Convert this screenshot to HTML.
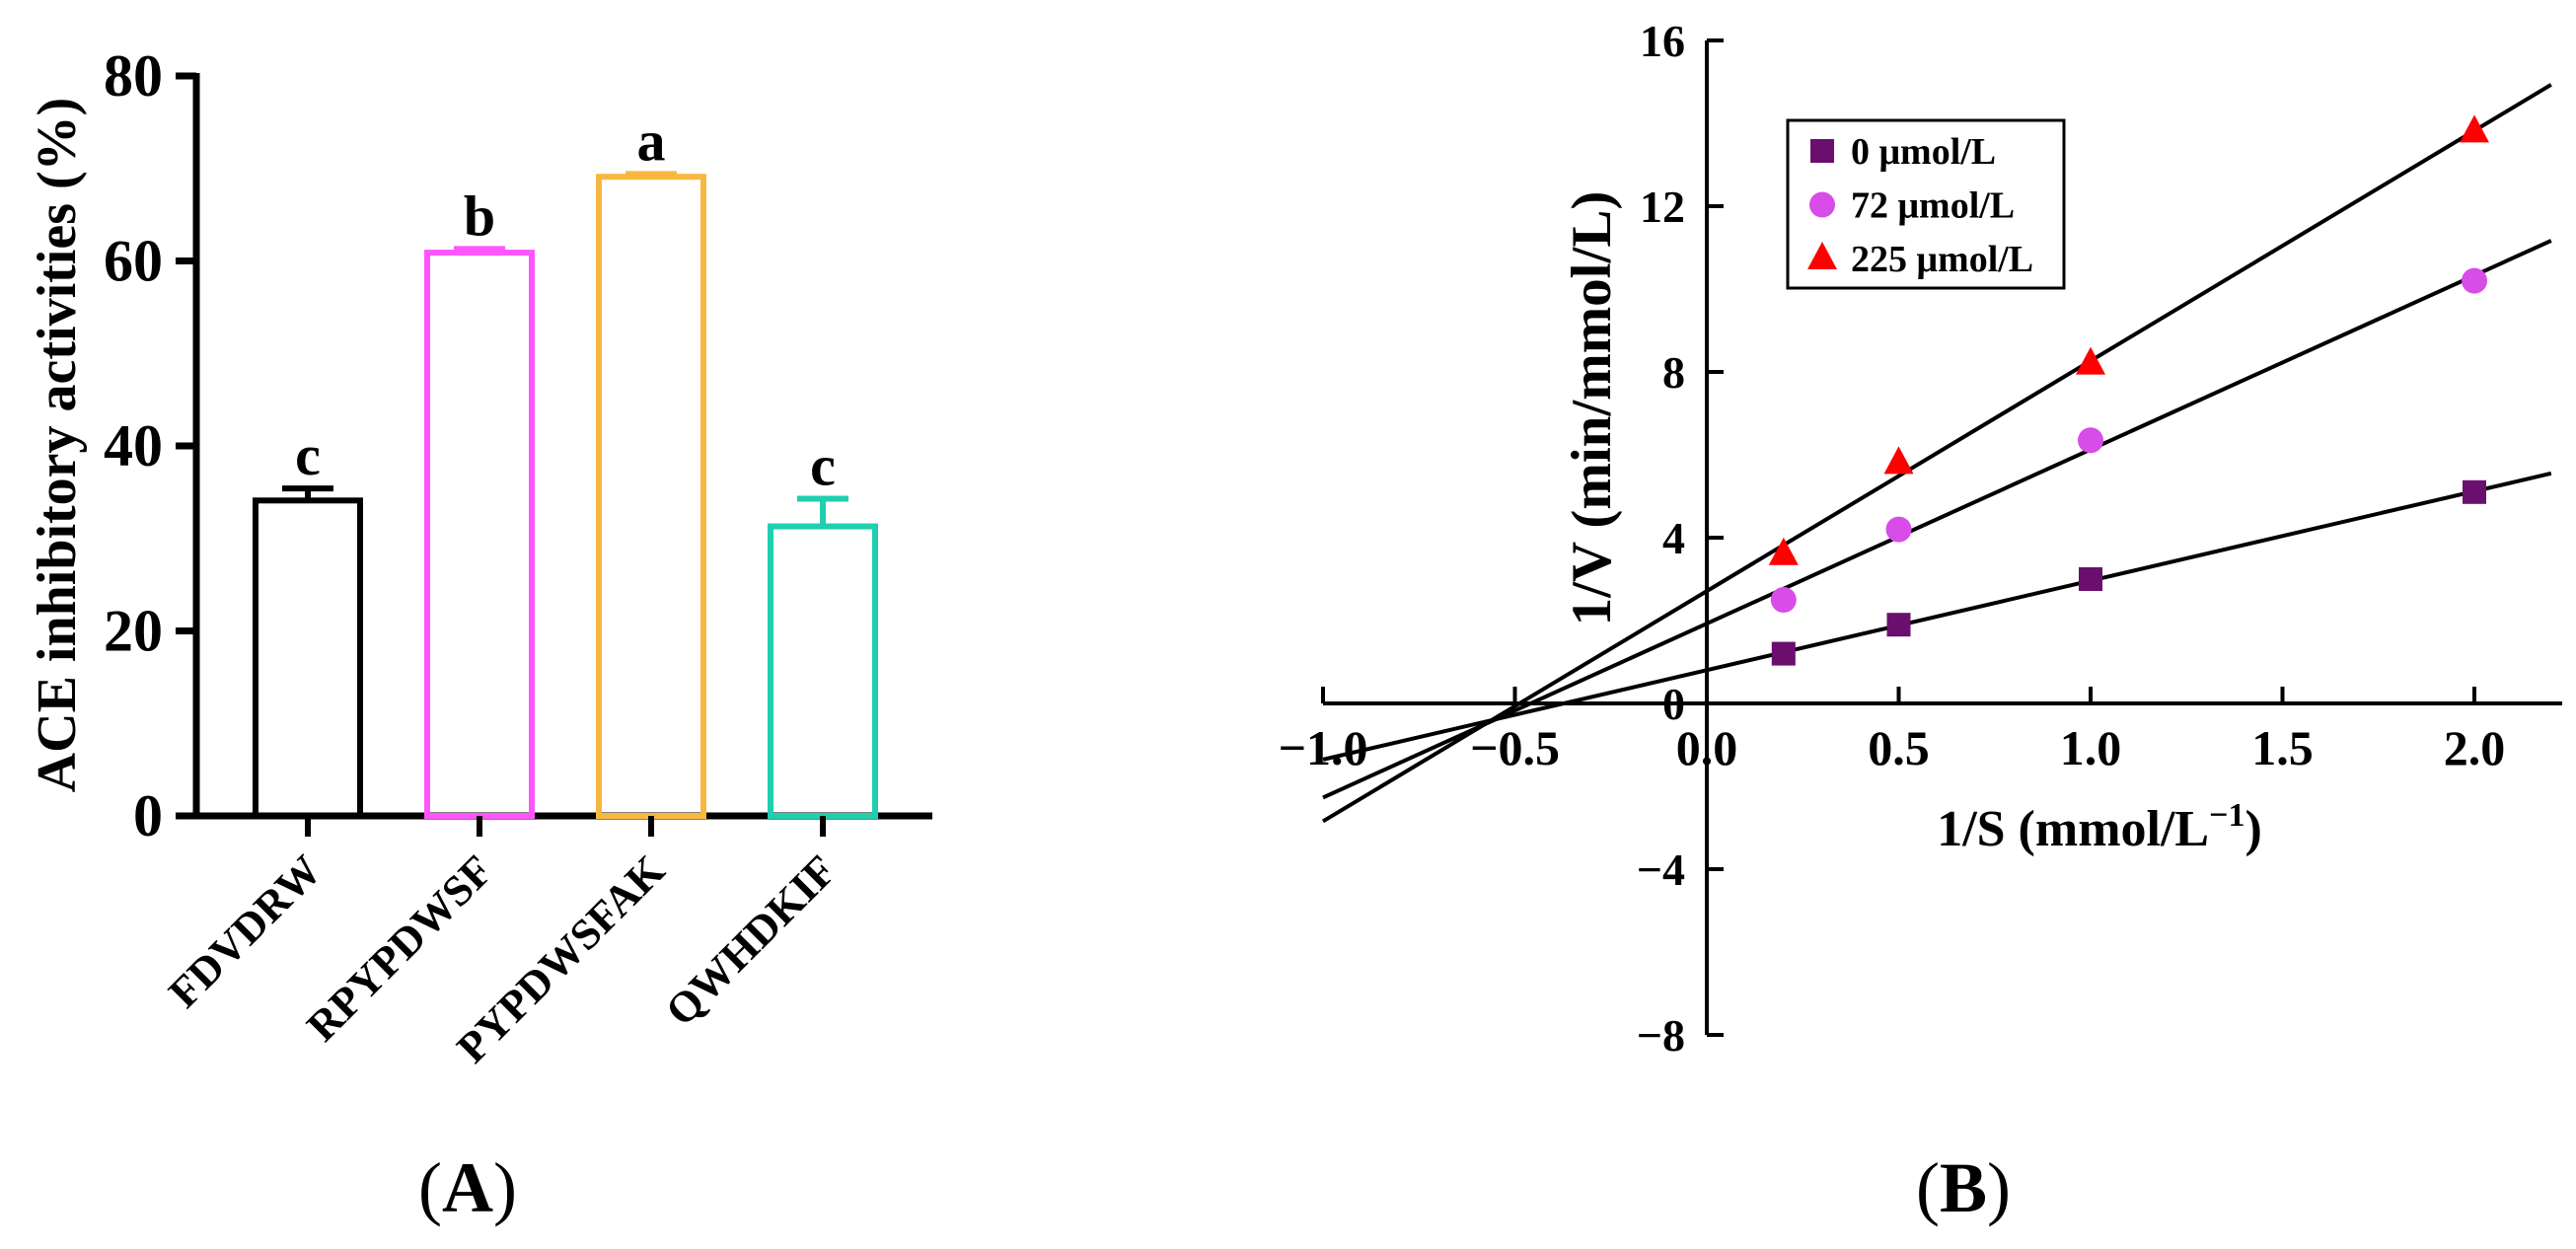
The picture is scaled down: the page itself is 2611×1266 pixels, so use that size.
<!DOCTYPE html>
<html><head><meta charset="utf-8"><style>
html,body{margin:0;padding:0;background:#fff}
svg{display:block;font-family:"Liberation Serif",serif;font-weight:bold}
</style></head><body>
<svg id="s" width="2611" height="1266" viewBox="0 0 2611 1266" xmlns="http://www.w3.org/2000/svg">
<g id="pa"></g>
<g id="pb"></g>
<text x="474" y="1228" font-size="72" text-anchor="middle" font-weight="normal">(<tspan font-weight="bold">A</tspan>)</text>
<text x="1990" y="1228" font-size="72" text-anchor="middle" font-weight="normal">(<tspan font-weight="bold">B</tspan>)</text>
</svg>
<script>
const categories=["FDVDRW","RPYPDWSF","PYPDWSFAK","QWHDKIF"];
const barValues=[34.1,60.9,69.1,31.3];
const barErrors=[1.3,0.4,0.3,3.0];
const sigLetters=["c","b","a","c"];
const barColors=["#000000","#ff55ff","#f8b840","#1fcfb0"];
const yTicksA=[0,20,40,60,80];

const xs=[0.2,0.5,1.0,2.0];
const seriesNames=["0 μmol/L","72 μmol/L","225 μmol/L"];
const s0=[1.2,1.9,3.0,5.1];
const s72=[2.5,4.2,6.35,10.2];
const s225=[3.6,5.8,8.2,13.8];
const xTicksB=[-1.0,-0.5,0.0,0.5,1.0,1.5,2.0];
const yTicksB=[-8,-4,0,4,8,12,16];

const NS="http://www.w3.org/2000/svg";
function mk(parent,tag,attrs,txt){const e=document.createElementNS(NS,tag);for(const k in attrs)e.setAttribute(k,attrs[k]);if(txt!==undefined)e.textContent=txt;parent.appendChild(e);return e;}

// Panel A
const pa=document.getElementById('pa');
const ay=v=>827-v*(750/80);
const ax=i=>312+i*174;
const ax0=199;
let e;
e=mk(pa,'line',{x1:ax0,y1:ay(80)-3,x2:ax0,y2:ay(0)+3,stroke:'#000','stroke-width':7});

e=mk(pa,'line',{x1:178,y1:ay(0),x2:945,y2:ay(0),stroke:'#000','stroke-width':7});

yTicksA.forEach(v=>{
  e=mk(pa,'line',{x1:178,y1:ay(v),x2:ax0,y2:ay(v),stroke:'#000','stroke-width':7});
  
  e=mk(pa,'text',{x:165,y:ay(v)+20,'font-size':60,'text-anchor':'end'},String(v));
  
});
e=mk(pa,'text',{x:0,y:0,'font-size':56,'text-anchor':'middle',transform:'translate(76,451) rotate(-90)'},'ACE inhibitory activities (%)');

categories.forEach((c,i)=>{
  const cx=ax(i),hw=53,top=ay(barValues[i]);
  e=mk(pa,'rect',{x:cx-hw,y:top,width:2*hw,height:ay(0)-top,fill:'none',stroke:barColors[i],'stroke-width':6});
  
  const et=ay(barValues[i]+barErrors[i]);
  e=mk(pa,'path',{d:`M${cx},${top} V${et} M${cx-26},${et} H${cx+26}`,stroke:barColors[i],'stroke-width':6,fill:'none'});
  
  e=mk(pa,'text',{x:cx,y:et-14,'font-size':58,'text-anchor':'middle'},sigLetters[i]);
  
  e=mk(pa,'line',{x1:cx,y1:ay(0),x2:cx,y2:848,stroke:'#000','stroke-width':6});
  
  e=mk(pa,'text',{x:0,y:0,'font-size':44,'text-anchor':'end',transform:`translate(${cx+16},${885}) rotate(-45)`},c);
  
});

// Panel B
const pb=document.getElementById('pb');
const bx=v=>1730+v*389;
const by=v=>713-v*42;
e=mk(pb,'line',{x1:bx(-1),y1:by(0),x2:2597,y2:by(0),stroke:'#000','stroke-width':4});

e=mk(pb,'line',{x1:bx(0),y1:by(16),x2:bx(0),y2:by(-8),stroke:'#000','stroke-width':4});

xTicksB.forEach(v=>{
  e=mk(pb,'line',{x1:bx(v),y1:by(0),x2:bx(v),y2:by(0)-17,stroke:'#000','stroke-width':4});
  
  e=mk(pb,'text',{x:bx(v),y:by(0)+62,'font-size':50,'text-anchor':'middle'},(v<0?'\u2212':'')+Math.abs(v).toFixed(1));
  
});
yTicksB.forEach(v=>{
  e=mk(pb,'line',{x1:bx(0),y1:by(v),x2:bx(0)+17,y2:by(v),stroke:'#000','stroke-width':4});
  
  e=mk(pb,'text',{x:bx(0)-22,y:by(v)+16,'font-size':46,'text-anchor':'end'},(v<0?'\u2212':'')+Math.abs(v));
  
});
e=mk(pb,'text',{x:2128,y:857,'font-size':52,'text-anchor':'middle'},'1/S (mmol/L');

mk(e,'tspan',{'font-size':34,dy:-20},'\u22121');
mk(e,'tspan',{dy:20},')');
e=mk(pb,'text',{x:0,y:0,'font-size':57,'text-anchor':'middle',transform:'translate(1632,414) rotate(-90)'},'1/V (min/mmol/L)');


const allSeries=[s0,s72,s225];
const seriesColors=["#6a0f6e","#d84ce8","#ff0000"];
function fit(ys){const n=xs.length;const mx=xs.reduce((a,b)=>a+b)/n,my=ys.reduce((a,b)=>a+b)/n;let sxy=0,sxx=0;xs.forEach((x,i)=>{sxy+=(x-mx)*(ys[i]-my);sxx+=(x-mx)*(x-mx);});const m=sxy/sxx;return [m,my-m*mx];}
function marker(g,k,x,y,col){
  if(k===0)return mk(g,'rect',{x:x-12,y:y-12,width:24,height:24,fill:col});
  if(k===1)return mk(g,'circle',{cx:x,cy:y,r:13,fill:col});
  return mk(g,'polygon',{points:`${x},${y-17} ${x+15},${y+11} ${x-15},${y+11}`,fill:col});
}
allSeries.forEach((ys,k)=>{
  const [m,b]=fit(ys);
  e=mk(pb,'line',{x1:bx(-1),y1:by(m*-1+b),x2:bx(2.2),y2:by(m*2.2+b),stroke:'#000','stroke-width':4});
  
});
allSeries.forEach((ys,k)=>{
  ys.forEach((v,i)=>{
    e=marker(pb,k,bx(xs[i]),by(v),seriesColors[k]);
    
  });
});
// legend
const lg=mk(pb,'g',{});

e=mk(lg,'rect',{x:1812,y:122,width:280,height:170,fill:'#fff',stroke:'#000','stroke-width':3});

seriesNames.forEach((n,k)=>{
  const y=153+k*54.5;
  e=marker(lg,k,1847,y,seriesColors[k]);
  
  e=mk(lg,'text',{x:1876,y:y+13,'font-size':38},n);
  
});
</script>
</body></html>
